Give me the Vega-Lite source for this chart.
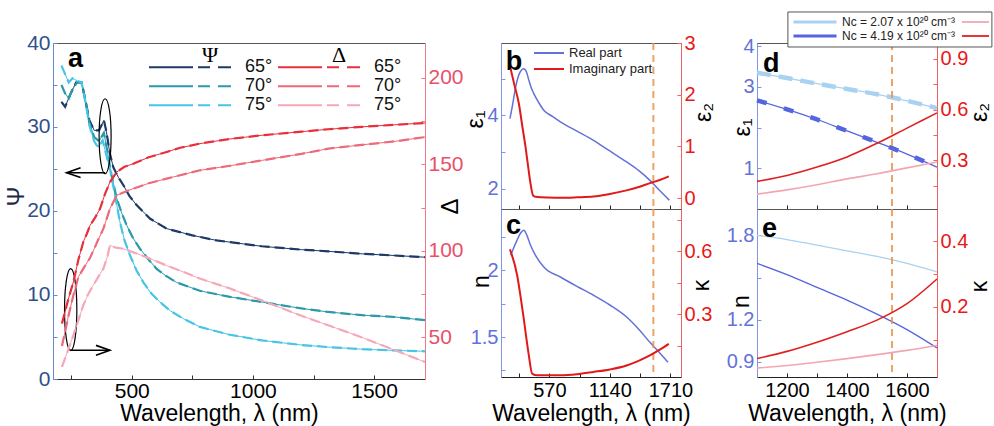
{
"$schema": "https://vega.github.io/schema/vega-lite/v6.json",
"background": "white",
"padding": {"left": 4, "top": 10, "right": 0, "bottom": 0},
"config": {
 "view": {"stroke": "#555", "strokeWidth": 1},
 "font": "Liberation Sans",
 "axis": {"grid": false, "labelFont": "Liberation Sans", "titleFont": "Liberation Sans", "labelFontSize": 20, "titleFontSize": 23, "titleFontWeight": "normal", "labelColor": "#000", "titleColor": "#000", "domainColor": "#333", "tickColor": "#333", "tickSize": -4, "labelPadding": 7, "labelFlush": false, "labelOverlap": false, "titlePadding": 2},
 "legend": {"labelFont": "Liberation Sans", "titleFont": "Liberation Serif", "titleFontWeight": "normal"}
},
"datasets": {
 "psi": [
  {"lam":210,"v":33.0,"angle":"65°"},{"lam":225,"v":32.4,"angle":"65°"},{"lam":245,"v":33.8,"angle":"65°"},{"lam":270,"v":35.3,"angle":"65°"},{"lam":293,"v":35.3,"angle":"65°"},{"lam":310,"v":33.0,"angle":"65°"},{"lam":325,"v":30.8,"angle":"65°"},{"lam":345,"v":29.6,"angle":"65°"},{"lam":365,"v":29.6,"angle":"65°"},{"lam":385,"v":30.8,"angle":"65°"},{"lam":395,"v":29.5,"angle":"65°"},{"lam":410,"v":26.8,"angle":"65°"},{"lam":424,"v":25.2,"angle":"65°"},{"lam":445,"v":24.0,"angle":"65°"},{"lam":465,"v":23.1,"angle":"65°"},{"lam":490,"v":21.8,"angle":"65°"},{"lam":520,"v":20.7,"angle":"65°"},{"lam":575,"v":19.1,"angle":"65°"},{"lam":644,"v":17.9,"angle":"65°"},{"lam":750,"v":17.1,"angle":"65°"},{"lam":850,"v":16.5,"angle":"65°"},{"lam":1036,"v":15.8,"angle":"65°"},{"lam":1200,"v":15.4,"angle":"65°"},{"lam":1311,"v":15.2,"angle":"65°"},{"lam":1450,"v":14.9,"angle":"65°"},{"lam":1586,"v":14.7,"angle":"65°"},{"lam":1710,"v":14.5,"angle":"65°"},
  {"lam":210,"v":35.0,"angle":"70°"},{"lam":225,"v":34.0,"angle":"70°"},{"lam":240,"v":33.4,"angle":"70°"},{"lam":255,"v":34.5,"angle":"70°"},{"lam":275,"v":35.3,"angle":"70°"},{"lam":293,"v":35.3,"angle":"70°"},{"lam":310,"v":33.0,"angle":"70°"},{"lam":325,"v":30.5,"angle":"70°"},{"lam":345,"v":28.8,"angle":"70°"},{"lam":365,"v":28.3,"angle":"70°"},{"lam":385,"v":29.3,"angle":"70°"},{"lam":400,"v":27.0,"angle":"70°"},{"lam":417,"v":24.2,"angle":"70°"},{"lam":438,"v":21.5,"angle":"70°"},{"lam":458,"v":19.8,"angle":"70°"},{"lam":479,"v":18.3,"angle":"70°"},{"lam":505,"v":16.8,"angle":"70°"},{"lam":534,"v":15.5,"angle":"70°"},{"lam":570,"v":14.2,"angle":"70°"},{"lam":603,"v":13.1,"angle":"70°"},{"lam":640,"v":12.3,"angle":"70°"},{"lam":685,"v":11.5,"angle":"70°"},{"lam":781,"v":10.5,"angle":"70°"},{"lam":900,"v":9.8,"angle":"70°"},{"lam":1036,"v":9.17,"angle":"70°"},{"lam":1200,"v":8.4,"angle":"70°"},{"lam":1311,"v":7.98,"angle":"70°"},{"lam":1450,"v":7.6,"angle":"70°"},{"lam":1586,"v":7.38,"angle":"70°"},{"lam":1710,"v":7.0,"angle":"70°"},
  {"lam":210,"v":37.3,"angle":"75°"},{"lam":225,"v":36.3,"angle":"75°"},{"lam":240,"v":35.3,"angle":"75°"},{"lam":255,"v":35.8,"angle":"75°"},{"lam":275,"v":35.5,"angle":"75°"},{"lam":293,"v":35.3,"angle":"75°"},{"lam":310,"v":32.8,"angle":"75°"},{"lam":325,"v":30.2,"angle":"75°"},{"lam":345,"v":28.3,"angle":"75°"},{"lam":360,"v":27.6,"angle":"75°"},{"lam":380,"v":28.4,"angle":"75°"},{"lam":392,"v":27.0,"angle":"75°"},{"lam":410,"v":25.0,"angle":"75°"},{"lam":431,"v":21.9,"angle":"75°"},{"lam":451,"v":18.7,"angle":"75°"},{"lam":470,"v":16.5,"angle":"75°"},{"lam":493,"v":14.7,"angle":"75°"},{"lam":520,"v":12.9,"angle":"75°"},{"lam":548,"v":11.5,"angle":"75°"},{"lam":580,"v":10.2,"angle":"75°"},{"lam":616,"v":9.17,"angle":"75°"},{"lam":660,"v":8.1,"angle":"75°"},{"lam":713,"v":7.18,"angle":"75°"},{"lam":781,"v":6.2,"angle":"75°"},{"lam":900,"v":5.3,"angle":"75°"},{"lam":1036,"v":4.6,"angle":"75°"},{"lam":1200,"v":4.05,"angle":"75°"},{"lam":1311,"v":3.8,"angle":"75°"},{"lam":1450,"v":3.55,"angle":"75°"},{"lam":1586,"v":3.4,"angle":"75°"},{"lam":1710,"v":3.3,"angle":"75°"}
 ],
 "delta": [
  {"lam":212,"v":58,"angle":"65°"},{"lam":238,"v":72,"angle":"65°"},{"lam":259,"v":82,"angle":"65°"},{"lam":280,"v":95,"angle":"65°"},{"lam":300,"v":105.1,"angle":"65°"},{"lam":315,"v":110,"angle":"65°"},{"lam":328,"v":114.7,"angle":"65°"},{"lam":348,"v":119,"angle":"65°"},{"lam":369,"v":124.3,"angle":"65°"},{"lam":390,"v":133,"angle":"65°"},{"lam":410,"v":139.7,"angle":"65°"},{"lam":438,"v":145.5,"angle":"65°"},{"lam":470,"v":148.5,"angle":"65°"},{"lam":506,"v":150.3,"angle":"65°"},{"lam":570,"v":154,"angle":"65°"},{"lam":644,"v":157.1,"angle":"65°"},{"lam":700,"v":159.5,"angle":"65°"},{"lam":781,"v":161.9,"angle":"65°"},{"lam":900,"v":164.5,"angle":"65°"},{"lam":1036,"v":166.7,"angle":"65°"},{"lam":1200,"v":168.8,"angle":"65°"},{"lam":1311,"v":170.2,"angle":"65°"},{"lam":1450,"v":171.6,"angle":"65°"},{"lam":1586,"v":172.8,"angle":"65°"},{"lam":1710,"v":173.8,"angle":"65°"},
  {"lam":212,"v":45,"angle":"70°"},{"lam":238,"v":62,"angle":"70°"},{"lam":259,"v":74.3,"angle":"70°"},{"lam":280,"v":85,"angle":"70°"},{"lam":300,"v":89.7,"angle":"70°"},{"lam":328,"v":96,"angle":"70°"},{"lam":345,"v":101.2,"angle":"70°"},{"lam":360,"v":106,"angle":"70°"},{"lam":383,"v":112.8,"angle":"70°"},{"lam":410,"v":124.3,"angle":"70°"},{"lam":438,"v":132.1,"angle":"70°"},{"lam":480,"v":134.5,"angle":"70°"},{"lam":506,"v":135.9,"angle":"70°"},{"lam":570,"v":139,"angle":"70°"},{"lam":644,"v":141.7,"angle":"70°"},{"lam":781,"v":146.5,"angle":"70°"},{"lam":900,"v":149,"angle":"70°"},{"lam":1036,"v":152.2,"angle":"70°"},{"lam":1200,"v":156,"angle":"70°"},{"lam":1311,"v":159.0,"angle":"70°"},{"lam":1450,"v":161.2,"angle":"70°"},{"lam":1586,"v":163.2,"angle":"70°"},{"lam":1710,"v":165.7,"angle":"70°"},
  {"lam":212,"v":33,"angle":"75°"},{"lam":238,"v":43,"angle":"75°"},{"lam":259,"v":51.2,"angle":"75°"},{"lam":280,"v":60,"angle":"75°"},{"lam":300,"v":68.6,"angle":"75°"},{"lam":320,"v":75,"angle":"75°"},{"lam":341,"v":80.1,"angle":"75°"},{"lam":362,"v":85,"angle":"75°"},{"lam":383,"v":89.7,"angle":"75°"},{"lam":400,"v":97,"angle":"75°"},{"lam":410,"v":103.2,"angle":"75°"},{"lam":430,"v":102,"angle":"75°"},{"lam":465,"v":101.2,"angle":"75°"},{"lam":520,"v":98.5,"angle":"75°"},{"lam":575,"v":95.5,"angle":"75°"},{"lam":644,"v":91.5,"angle":"75°"},{"lam":713,"v":87.8,"angle":"75°"},{"lam":781,"v":84,"angle":"75°"},{"lam":900,"v":78.5,"angle":"75°"},{"lam":1036,"v":71.4,"angle":"75°"},{"lam":1200,"v":62.5,"angle":"75°"},{"lam":1311,"v":57.0,"angle":"75°"},{"lam":1450,"v":50,"angle":"75°"},{"lam":1586,"v":42.6,"angle":"75°"},{"lam":1710,"v":35.8,"angle":"75°"}
 ],
 "b_re": [{"lam":199,"v":3.91},{"lam":225,"v":4.3},{"lam":253,"v":4.77},{"lam":290,"v":5.15},{"lam":330,"v":5.27},{"lam":355,"v":5.18},{"lam":377,"v":4.96},{"lam":400,"v":4.75},{"lam":424,"v":4.59},{"lam":470,"v":4.35},{"lam":518,"v":4.14},{"lam":600,"v":3.97},{"lam":674,"v":3.82},{"lam":830,"v":3.57},{"lam":986,"v":3.32},{"lam":1140,"v":3.03},{"lam":1298,"v":2.73},{"lam":1410,"v":2.5},{"lam":1517,"v":2.23},{"lam":1600,"v":1.98},{"lam":1700,"v":1.69}],
 "b_im": [{"lam":206,"v":2.5},{"lam":240,"v":2.2},{"lam":284,"v":1.82},{"lam":315,"v":1.4},{"lam":346,"v":0.99},{"lam":370,"v":0.62},{"lam":393,"v":0.28},{"lam":417,"v":0.05},{"lam":440,"v":0.025},{"lam":560,"v":0.01},{"lam":674,"v":0.006},{"lam":830,"v":0.015},{"lam":986,"v":0.03},{"lam":1140,"v":0.08},{"lam":1298,"v":0.15},{"lam":1420,"v":0.22},{"lam":1517,"v":0.29},{"lam":1610,"v":0.35},{"lam":1695,"v":0.42}],
 "c_n": [{"lam":206,"v":2.113},{"lam":235,"v":2.17},{"lam":265,"v":2.225},{"lam":300,"v":2.28},{"lam":330,"v":2.3},{"lam":360,"v":2.26},{"lam":393,"v":2.188},{"lam":440,"v":2.113},{"lam":518,"v":2.025},{"lam":674,"v":1.95},{"lam":830,"v":1.88},{"lam":986,"v":1.813},{"lam":1140,"v":1.74},{"lam":1298,"v":1.65},{"lam":1410,"v":1.56},{"lam":1517,"v":1.46},{"lam":1600,"v":1.39},{"lam":1688,"v":1.31}],
 "c_k": [{"lam":199,"v":0.608},{"lam":268,"v":0.482},{"lam":300,"v":0.38},{"lam":330,"v":0.276},{"lam":355,"v":0.18},{"lam":377,"v":0.103},{"lam":408,"v":0.016},{"lam":455,"v":0.008},{"lam":674,"v":0.008},{"lam":830,"v":0.013},{"lam":986,"v":0.024},{"lam":1140,"v":0.036},{"lam":1298,"v":0.055},{"lam":1410,"v":0.077},{"lam":1517,"v":0.103},{"lam":1610,"v":0.13},{"lam":1695,"v":0.158}],
 "d_e1": [
  {"lam":1100,"v":3.35,"nc":"Nc = 2.07 x 10²⁰ cm⁻³"},{"lam":1200,"v":3.22,"nc":"Nc = 2.07 x 10²⁰ cm⁻³"},{"lam":1300,"v":3.08,"nc":"Nc = 2.07 x 10²⁰ cm⁻³"},{"lam":1400,"v":2.95,"nc":"Nc = 2.07 x 10²⁰ cm⁻³"},{"lam":1500,"v":2.82,"nc":"Nc = 2.07 x 10²⁰ cm⁻³"},{"lam":1600,"v":2.66,"nc":"Nc = 2.07 x 10²⁰ cm⁻³"},{"lam":1700,"v":2.48,"nc":"Nc = 2.07 x 10²⁰ cm⁻³"},
  {"lam":1100,"v":2.67,"nc":"Nc = 4.19 x 10²⁰ cm⁻³"},{"lam":1200,"v":2.45,"nc":"Nc = 4.19 x 10²⁰ cm⁻³"},{"lam":1300,"v":2.2,"nc":"Nc = 4.19 x 10²⁰ cm⁻³"},{"lam":1400,"v":1.92,"nc":"Nc = 4.19 x 10²⁰ cm⁻³"},{"lam":1500,"v":1.64,"nc":"Nc = 4.19 x 10²⁰ cm⁻³"},{"lam":1600,"v":1.35,"nc":"Nc = 4.19 x 10²⁰ cm⁻³"},{"lam":1700,"v":1.03,"nc":"Nc = 4.19 x 10²⁰ cm⁻³"}
 ],
 "d_e2": [
  {"lam":1100,"v":0.1,"nc":"Nc = 2.07 x 10²⁰ cm⁻³"},{"lam":1200,"v":0.125,"nc":"Nc = 2.07 x 10²⁰ cm⁻³"},{"lam":1300,"v":0.155,"nc":"Nc = 2.07 x 10²⁰ cm⁻³"},{"lam":1400,"v":0.19,"nc":"Nc = 2.07 x 10²⁰ cm⁻³"},{"lam":1500,"v":0.22,"nc":"Nc = 2.07 x 10²⁰ cm⁻³"},{"lam":1600,"v":0.255,"nc":"Nc = 2.07 x 10²⁰ cm⁻³"},{"lam":1700,"v":0.29,"nc":"Nc = 2.07 x 10²⁰ cm⁻³"},
  {"lam":1100,"v":0.175,"nc":"Nc = 4.19 x 10²⁰ cm⁻³"},{"lam":1200,"v":0.21,"nc":"Nc = 4.19 x 10²⁰ cm⁻³"},{"lam":1300,"v":0.26,"nc":"Nc = 4.19 x 10²⁰ cm⁻³"},{"lam":1400,"v":0.32,"nc":"Nc = 4.19 x 10²⁰ cm⁻³"},{"lam":1500,"v":0.4,"nc":"Nc = 4.19 x 10²⁰ cm⁻³"},{"lam":1600,"v":0.49,"nc":"Nc = 4.19 x 10²⁰ cm⁻³"},{"lam":1700,"v":0.58,"nc":"Nc = 4.19 x 10²⁰ cm⁻³"}
 ],
 "e_n": [
  {"lam":1100,"v":1.8,"nc":"Nc = 2.07 x 10²⁰ cm⁻³"},{"lam":1200,"v":1.77,"nc":"Nc = 2.07 x 10²⁰ cm⁻³"},{"lam":1300,"v":1.73,"nc":"Nc = 2.07 x 10²⁰ cm⁻³"},{"lam":1400,"v":1.69,"nc":"Nc = 2.07 x 10²⁰ cm⁻³"},{"lam":1500,"v":1.65,"nc":"Nc = 2.07 x 10²⁰ cm⁻³"},{"lam":1600,"v":1.6,"nc":"Nc = 2.07 x 10²⁰ cm⁻³"},{"lam":1700,"v":1.54,"nc":"Nc = 2.07 x 10²⁰ cm⁻³"},
  {"lam":1100,"v":1.6,"nc":"Nc = 4.19 x 10²⁰ cm⁻³"},{"lam":1200,"v":1.52,"nc":"Nc = 4.19 x 10²⁰ cm⁻³"},{"lam":1300,"v":1.43,"nc":"Nc = 4.19 x 10²⁰ cm⁻³"},{"lam":1400,"v":1.34,"nc":"Nc = 4.19 x 10²⁰ cm⁻³"},{"lam":1500,"v":1.24,"nc":"Nc = 4.19 x 10²⁰ cm⁻³"},{"lam":1600,"v":1.13,"nc":"Nc = 4.19 x 10²⁰ cm⁻³"},{"lam":1700,"v":1.0,"nc":"Nc = 4.19 x 10²⁰ cm⁻³"}
 ],
 "e_k": [
  {"lam":1100,"v":0.014,"nc":"Nc = 2.07 x 10²⁰ cm⁻³"},{"lam":1200,"v":0.022,"nc":"Nc = 2.07 x 10²⁰ cm⁻³"},{"lam":1300,"v":0.032,"nc":"Nc = 2.07 x 10²⁰ cm⁻³"},{"lam":1400,"v":0.043,"nc":"Nc = 2.07 x 10²⁰ cm⁻³"},{"lam":1500,"v":0.055,"nc":"Nc = 2.07 x 10²⁰ cm⁻³"},{"lam":1600,"v":0.068,"nc":"Nc = 2.07 x 10²⁰ cm⁻³"},{"lam":1700,"v":0.083,"nc":"Nc = 2.07 x 10²⁰ cm⁻³"},
  {"lam":1100,"v":0.043,"nc":"Nc = 4.19 x 10²⁰ cm⁻³"},{"lam":1200,"v":0.065,"nc":"Nc = 4.19 x 10²⁰ cm⁻³"},{"lam":1300,"v":0.093,"nc":"Nc = 4.19 x 10²⁰ cm⁻³"},{"lam":1400,"v":0.125,"nc":"Nc = 4.19 x 10²⁰ cm⁻³"},{"lam":1500,"v":0.16,"nc":"Nc = 4.19 x 10²⁰ cm⁻³"},{"lam":1600,"v":0.21,"nc":"Nc = 4.19 x 10²⁰ cm⁻³"},{"lam":1700,"v":0.285,"nc":"Nc = 4.19 x 10²⁰ cm⁻³"}
 ]
},
"columns": 3,
"spacing": {"row": 0, "column": 76},
"bounds": "flush",
"resolve": {"scale": {"color": "independent"}},
"concat": [
 {
  "width": 372, "height": 166,
  "view": {"stroke": null},
  "encoding": {"x": {"field": "lam", "type": "quantitative", "scale": {"domain": [175, 1710], "nice": false, "zero": false}, "axis": {"orient": "top", "labels": false, "ticks": false, "title": null, "domainColor": "#555"}}},
  "layer": [
   {"layer": [
    {"data": {"name": "psi"}, "mark": {"type": "line", "strokeWidth": 1, "clip": true},
     "encoding": {
      "y": {"field": "v", "type": "quantitative", "scale": {"domain": [20.238, 40], "nice": false, "zero": false}, "axis": {"title": "Ψ", "values": [25,30,35,40], "format": "d", "labelExpr": "datum.value % 10 == 0 ? datum.label : ''", "labelColor": "#30508a", "domainColor": "#6a88c8", "tickColor": "#6a88c8", "labelFontSize": 21, "titleFontSize": 24, "titleColor": "#1a2a4a", "titleX": -25, "titleY": 153, "titleAngle": 270, "titleBaseline": "bottom", "titleAlign": "center", "encoding": {"title": {"update": {"angle": {"value": 270}, "baseline": {"value": "bottom"}}}}}},
      "color": {"field": "angle", "type": "nominal", "scale": {"domain": ["65°","70°","75°"], "range": ["#1e3a66","#2a9aaa","#48c4e4"]}, "legend": {"title": "Ψ", "orient": "none", "legendX": 95, "legendY": 2, "direction": "vertical", "symbolType": "stroke", "symbolSize": 6724, "symbolStrokeWidth": 2, "symbolDash": [44,5,12,8,13,0], "clipHeight": 16.7, "rowPadding": 0, "labelFontSize": 18, "labelOffset": 13, "labelColor": "#111", "titleFontSize": 22, "titleAnchor": "middle", "titlePadding": -8}}
     }},
    {"data": {"name": "psi"}, "mark": {"type": "line", "strokeWidth": 2.2, "strokeDash": [10,5], "clip": true},
     "encoding": {"y": {"field": "v", "type": "quantitative"}, "color": {"field": "angle", "type": "nominal"}}},
    {"data": {"values": [{"lam": 390, "v": 28.9}]}, "mark": {"type": "point", "shape": "M0,-1A0.16,1,0,1,1,0,1A0.16,1,0,1,1,0,-1Z", "size": 5625, "filled": false, "color": "#000", "strokeWidth": 1.2, "opacity": 1},
     "encoding": {"y": {"field": "v", "type": "quantitative"}}},
    {"data": {"values": [{"lam": 390, "lam2": 231, "v": 24.56}]}, "mark": {"type": "rule", "color": "#000", "strokeWidth": 1.5},
     "encoding": {"x2": {"field": "lam2"}, "y": {"field": "v", "type": "quantitative"}}},
    {"data": {"values": [{"lam2": 231, "v": 24.56}]}, "mark": {"type": "point", "shape": "M2,-0.7L0,0L2,0.7", "size": 196, "filled": false, "color": "#000", "strokeWidth": 1.6, "opacity": 1},
     "encoding": {"x": {"field": "lam2", "type": "quantitative"}, "y": {"field": "v", "type": "quantitative"}}},
    {"data": {"values": [{"lam": 237, "v": 37.14, "t": "a"}]}, "mark": {"type": "text", "fontSize": 27, "fontWeight": "bold", "font": "Liberation Sans", "align": "left", "baseline": "alphabetic", "color": "#000"},
     "encoding": {"y": {"field": "v", "type": "quantitative"}, "text": {"field": "t"}}}
   ]},
   {"layer": [
    {"data": {"name": "delta"}, "mark": {"type": "line", "strokeWidth": 1, "clip": true},
     "encoding": {
      "y": {"field": "v", "type": "quantitative", "scale": {"domain": [124.155, 220], "nice": false, "zero": false}, "axis": {"orient": "right", "title": "Δ", "values": [125,150,175,200], "format": "d", "labelExpr": "datum.value % 50 == 0 ? datum.label : ''", "labelColor": "#e8506a", "domainColor": "#f07888", "tickColor": "#f07888", "labelFontSize": 21, "titleFontSize": 24, "titleX": 37, "titleY": 163, "titleAngle": 270, "titleBaseline": "bottom", "titleAlign": "center", "encoding": {"title": {"update": {"angle": {"value": 270}, "baseline": {"value": "bottom"}}}}}},
      "color": {"field": "angle", "type": "nominal", "scale": {"domain": ["65°","70°","75°"], "range": ["#e8303c","#ec6a7a","#f4a8b8"]}, "legend": {"title": "Δ", "orient": "none", "legendX": 224, "legendY": 2, "direction": "vertical", "symbolType": "stroke", "symbolSize": 6724, "symbolStrokeWidth": 2, "symbolDash": [44,5,12,8,13,0], "clipHeight": 16.7, "rowPadding": 0, "labelFontSize": 18, "labelOffset": 13, "labelColor": "#111", "titleFontSize": 22, "titleAnchor": "middle", "titlePadding": -8}}
     }},
    {"data": {"name": "delta"}, "mark": {"type": "line", "strokeWidth": 2.2, "strokeDash": [10,5], "clip": true},
     "encoding": {"y": {"field": "v", "type": "quantitative"}, "color": {"field": "angle", "type": "nominal"}}}
   ]}
  ],
  "resolve": {"scale": {"y": "independent", "color": "independent"}}
 },
 {
  "width": 180, "height": 166,
  "encoding": {"x": {"field": "lam", "type": "quantitative", "scale": {"domain": [115, 1810], "nice": false, "zero": false}, "axis": {"values": [285,570,855,1140,1425,1710], "labels": false, "title": null, "domainColor": "#222", "tickColor": "#222"}}},
  "layer": [
   {"layer": [
    {"data": {"name": "b_re"}, "mark": {"type": "line", "strokeWidth": 1.5, "interpolate": "monotone"},
     "encoding": {
      "y": {"field": "v", "type": "quantitative", "scale": {"domain": [1.45, 5.97], "nice": false, "zero": false}, "axis": {"title": "ε₁", "values": [2,3,4,5], "format": "d", "labelExpr": "datum.value == 2 || datum.value == 4 ? datum.label : ''", "labelColor": "#6272d8", "domainColor": "#8494e4", "tickColor": "#8494e4", "titleX": -14, "titleY": 76, "titleAngle": 270, "titleBaseline": "bottom", "titleAlign": "center", "encoding": {"title": {"update": {"angle": {"value": 270}, "baseline": {"value": "bottom"}}}}}},
      "color": {"datum": "Real part", "type": "nominal", "scale": {"domain": ["Real part", "Imaginary part"], "range": ["#6272d8", "#e01a1a"]}, "legend": {"title": null, "orient": "none", "legendX": 32, "legendY": 2, "direction": "vertical", "symbolType": "stroke", "symbolSize": 900, "symbolStrokeWidth": 2, "clipHeight": 16, "rowPadding": 0, "labelFontSize": 13, "labelOffset": 4, "labelColor": "#222"}}
     }},
    {"data": {"values": [{"lam": 1550}]}, "mark": {"type": "rule", "color": "#e8944a", "strokeWidth": 2, "strokeDash": [7,5], "opacity": 0.85}, "encoding": {}},
    {"data": {"values": [{"lam": 159, "v": 5.24, "t": "b"}]}, "mark": {"type": "text", "fontSize": 27, "fontWeight": "bold", "font": "Liberation Sans", "align": "left", "baseline": "alphabetic", "color": "#000"},
     "encoding": {"y": {"field": "v", "type": "quantitative"}, "text": {"field": "t"}}}
   ]},
   {"layer": [
    {"data": {"name": "b_im"}, "mark": {"type": "line", "strokeWidth": 2, "interpolate": "monotone"},
     "encoding": {
      "y": {"field": "v", "type": "quantitative", "scale": {"domain": [-0.21, 3.0], "nice": false, "zero": false}, "axis": {"orient": "right", "title": "ε₂", "values": [0,1,2,3], "format": "d", "labelColor": "#e81818", "domainColor": "#f06060", "tickColor": "#f06060", "titleX": 34, "titleY": 69, "titleAngle": 270, "titleBaseline": "bottom", "titleAlign": "center", "encoding": {"title": {"update": {"angle": {"value": 270}, "baseline": {"value": "bottom"}}}}}},
      "color": {"datum": "Imaginary part", "type": "nominal"}
     }}
   ]}
  ],
  "resolve": {"scale": {"y": "independent"}}
 },
 {
  "width": 180, "height": 166,
  "encoding": {"x": {"field": "lam", "type": "quantitative", "scale": {"domain": [1100, 1700], "nice": false, "zero": false}, "axis": {"values": [1200,1300,1400,1500,1600], "labels": false, "title": null, "domainColor": "#222", "tickColor": "#222"}}},
  "layer": [
   {"layer": [
    {"data": {"name": "d_e1"}, "mark": {"type": "line", "strokeWidth": 1.3, "interpolate": "monotone"},
     "encoding": {
      "y": {"field": "v", "type": "quantitative", "scale": {"domain": [0, 4.08], "nice": false, "zero": false}, "axis": {"title": "ε₁", "values": [1,2,3,4], "format": "d", "labelExpr": "datum.value == 2 ? '' : datum.label", "labelColor": "#6272d8", "domainColor": "#8494e4", "tickColor": "#8494e4", "titleX": -3, "titleY": 84, "titleAngle": 270, "titleBaseline": "bottom", "titleAlign": "center", "encoding": {"title": {"update": {"angle": {"value": 270}, "baseline": {"value": "bottom"}}}}}},
      "color": {"field": "nc", "type": "nominal", "scale": {"domain": ["Nc = 2.07 x 10²⁰ cm⁻³", "Nc = 4.19 x 10²⁰ cm⁻³"], "range": ["#a9d2f0", "#5565dd"]}, "legend": {"title": null, "orient": "none", "legendX": 31, "legendY": -31, "direction": "vertical", "symbolType": "stroke", "symbolSize": 1849, "symbolStrokeWidth": 3, "clipHeight": 12, "rowPadding": 2, "labelFontSize": 12, "labelOffset": 4, "labelColor": "#222", "padding": 4}}
     }},
    {"data": {"name": "d_e1"}, "mark": {"type": "line", "strokeWidth": 4.5, "interpolate": "monotone"},
     "encoding": {"y": {"field": "v", "type": "quantitative"}, "color": {"field": "nc", "type": "nominal"}, "strokeDash": {"field": "nc", "type": "nominal", "scale": {"domain": ["Nc = 2.07 x 10²⁰ cm⁻³", "Nc = 4.19 x 10²⁰ cm⁻³"], "range": [[14, 8], [10, 18]]}, "legend": null}}},
    {"data": {"values": [{"lam": 1550}]}, "mark": {"type": "rule", "color": "#e8944a", "strokeWidth": 2, "strokeDash": [7,5], "opacity": 0.85}, "encoding": {}},
    {"data": {"values": [{"lam": 1120, "v": 3.37, "t": "d"}]}, "mark": {"type": "text", "fontSize": 27, "fontWeight": "bold", "font": "Liberation Sans", "align": "left", "baseline": "alphabetic", "color": "#000"},
     "encoding": {"y": {"field": "v", "type": "quantitative"}, "text": {"field": "t"}}},
    {"data": {"values": [{"lam": 1203, "lam2": 1883, "v": 4.842, "v2": 3.982}]}, "mark": {"type": "rect", "fill": "white", "stroke": "#555", "strokeWidth": 1},
     "encoding": {"x2": {"field": "lam2"}, "y": {"field": "v", "type": "quantitative"}, "y2": {"field": "v2"}}}
   ]},
   {"layer": [
    {"data": {"name": "d_e2"}, "mark": {"type": "line", "strokeWidth": 1.6, "interpolate": "monotone"},
     "encoding": {
      "y": {"field": "v", "type": "quantitative", "scale": {"domain": [0.012, 0.993], "nice": false, "zero": false}, "axis": {"orient": "right", "title": "ε₂", "values": [0.15,0.3,0.45,0.6,0.75,0.9], "labelExpr": "datum.value == 0.3 || datum.value == 0.6 || datum.value == 0.9 ? format(datum.value, '.1f') : ''", "labelColor": "#e81818", "domainColor": "#f06060", "tickColor": "#f06060", "titleX": 54, "titleY": 69, "titleAngle": 270, "titleBaseline": "bottom", "titleAlign": "center", "encoding": {"title": {"update": {"angle": {"value": 270}, "baseline": {"value": "bottom"}}}}}},
      "color": {"field": "nc", "type": "nominal", "scale": {"domain": ["Nc = 2.07 x 10²⁰ cm⁻³", "Nc = 4.19 x 10²⁰ cm⁻³"], "range": ["#f2a6b4", "#e02020"]}, "legend": {"title": null, "orient": "none", "legendX": 200, "legendY": -31, "direction": "vertical", "symbolType": "stroke", "symbolSize": 729, "symbolStrokeWidth": 1.8, "clipHeight": 12, "rowPadding": 2, "labelFontSize": 12, "labelOffset": 0, "labelExpr": "'\u200a'", "labelOpacity": 0, "padding": 4}}
     }}
   ]}
  ],
  "resolve": {"scale": {"y": "independent", "color": "independent"}}
 },
 {
  "width": 372, "height": 170,
  "view": {"stroke": null},
  "encoding": {"x": {"field": "lam", "type": "quantitative", "scale": {"domain": [175, 1710], "nice": false, "zero": false}, "axis": {"values": [250,500,750,1000,1250,1500], "format": "d", "labelExpr": "datum.value % 500 == 0 ? datum.label : ''", "title": "Wavelength, λ (nm)", "titleX": 166, "labelFontSize": 21, "labelPadding": 5, "titleFontSize": 23, "titlePadding": 1, "domainColor": "#333"}}},
  "layer": [
   {"layer": [
    {"data": {"name": "psi"}, "mark": {"type": "line", "strokeWidth": 1, "clip": true},
     "encoding": {
      "y": {"field": "v", "type": "quantitative", "scale": {"domain": [0, 20.238], "nice": false, "zero": false}, "axis": {"title": null, "values": [0,5,10,15,20], "format": "d", "labelExpr": "datum.value % 10 == 0 ? datum.label : ''", "labelColor": "#30508a", "domainColor": "#6a88c8", "tickColor": "#6a88c8", "labelFontSize": 21}},
      "color": {"field": "angle", "type": "nominal", "scale": {"domain": ["65°","70°","75°"], "range": ["#1e3a66","#2a9aaa","#48c4e4"]}, "legend": null}
     }},
    {"data": {"name": "psi"}, "mark": {"type": "line", "strokeWidth": 2.2, "strokeDash": [10,5], "clip": true},
     "encoding": {"y": {"field": "v", "type": "quantitative"}, "color": {"field": "angle", "type": "nominal"}}},
    {"data": {"values": [{"lam": 248, "v": 8.25}]}, "mark": {"type": "point", "shape": "M0,-1A0.15,1,0,1,1,0,1A0.15,1,0,1,1,0,-1Z", "size": 6724, "filled": false, "color": "#000", "strokeWidth": 1.2, "opacity": 1},
     "encoding": {"y": {"field": "v", "type": "quantitative"}}},
    {"data": {"values": [{"lam": 245, "lam2": 410, "v": 3.42}]}, "mark": {"type": "rule", "color": "#000", "strokeWidth": 1.5},
     "encoding": {"x2": {"field": "lam2"}, "y": {"field": "v", "type": "quantitative"}}},
    {"data": {"values": [{"lam2": 410, "v": 3.42}]}, "mark": {"type": "point", "shape": "M-2,-0.7L0,0L-2,0.7", "size": 196, "filled": false, "color": "#000", "strokeWidth": 1.6, "opacity": 1},
     "encoding": {"x": {"field": "lam2", "type": "quantitative"}, "y": {"field": "v", "type": "quantitative"}}}
   ]},
   {"layer": [
    {"data": {"name": "delta"}, "mark": {"type": "line", "strokeWidth": 1, "clip": true},
     "encoding": {
      "y": {"field": "v", "type": "quantitative", "scale": {"domain": [26, 124.155], "nice": false, "zero": false}, "axis": {"orient": "right", "title": null, "values": [50,75,100], "format": "d", "labelExpr": "datum.value % 50 == 0 ? datum.label : ''", "labelColor": "#e8506a", "domainColor": "#f07888", "tickColor": "#f07888", "labelFontSize": 21}},
      "color": {"field": "angle", "type": "nominal", "scale": {"domain": ["65°","70°","75°"], "range": ["#e8303c","#ec6a7a","#f4a8b8"]}, "legend": null}
     }},
    {"data": {"name": "delta"}, "mark": {"type": "line", "strokeWidth": 2.2, "strokeDash": [10,5], "clip": true},
     "encoding": {"y": {"field": "v", "type": "quantitative"}, "color": {"field": "angle", "type": "nominal"}}}
   ]}
  ],
  "resolve": {"scale": {"y": "independent", "color": "independent"}}
 },
 {
  "width": 180, "height": 168,
  "encoding": {"x": {"field": "lam", "type": "quantitative", "scale": {"domain": [115, 1810], "nice": false, "zero": false}, "axis": {"values": [285,570,855,1140,1425,1710], "format": "d", "labelExpr": "datum.value % 570 == 0 ? datum.label : ''", "title": "Wavelength, λ (nm)", "domainColor": "#222", "tickColor": "#222"}}},
  "layer": [
   {"layer": [
    {"data": {"name": "c_n"}, "mark": {"type": "line", "strokeWidth": 1.5, "interpolate": "monotone"},
     "encoding": {
      "y": {"field": "v", "type": "quantitative", "scale": {"domain": [1.2, 2.46], "nice": false, "zero": false}, "axis": {"title": "n", "values": [1.25,1.5,1.75,2,2.25], "labelExpr": "datum.value == 1.5 ? '1.5' : datum.value == 2 ? '2' : ''", "labelColor": "#6272d8", "domainColor": "#8494e4", "tickColor": "#8494e4", "titleX": -8, "titleY": 72, "titleAngle": 270, "titleBaseline": "bottom", "titleAlign": "center", "encoding": {"title": {"update": {"angle": {"value": 270}, "baseline": {"value": "bottom"}}}}}},
      "color": {"datum": "Real part", "type": "nominal", "scale": {"domain": ["Real part", "Imaginary part"], "range": ["#6272d8", "#e01a1a"]}, "legend": null}
     }},
    {"data": {"values": [{"lam": 1550}]}, "mark": {"type": "rule", "color": "#e8944a", "strokeWidth": 2, "strokeDash": [7,5], "opacity": 0.85}, "encoding": {}},
    {"data": {"values": [{"lam": 162, "v": 2.273, "t": "c"}]}, "mark": {"type": "text", "fontSize": 27, "fontWeight": "bold", "font": "Liberation Sans", "align": "left", "baseline": "alphabetic", "color": "#000"},
     "encoding": {"y": {"field": "v", "type": "quantitative"}, "text": {"field": "t"}}}
   ]},
   {"layer": [
    {"data": {"name": "c_k"}, "mark": {"type": "line", "strokeWidth": 2, "interpolate": "monotone"},
     "encoding": {
      "y": {"field": "v", "type": "quantitative", "scale": {"domain": [0, 0.8], "nice": false, "zero": false}, "axis": {"orient": "right", "title": "κ", "values": [0.15,0.3,0.45,0.6,0.75], "labelExpr": "datum.value == 0.3 || datum.value == 0.6 ? format(datum.value, '.1f') : ''", "labelColor": "#e81818", "domainColor": "#f06060", "tickColor": "#f06060", "titleX": 32, "titleY": 76, "titleAngle": 270, "titleBaseline": "bottom", "titleAlign": "center", "encoding": {"title": {"update": {"angle": {"value": 270}, "baseline": {"value": "bottom"}}}}}},
      "color": {"datum": "Imaginary part", "type": "nominal"}
     }}
   ]}
  ],
  "resolve": {"scale": {"y": "independent"}}
 },
 {
  "width": 180, "height": 168,
  "encoding": {"x": {"field": "lam", "type": "quantitative", "scale": {"domain": [1100, 1700], "nice": false, "zero": false}, "axis": {"values": [1200,1300,1400,1500,1600], "format": "d", "labelExpr": "datum.value % 200 == 0 ? datum.label : ''", "title": "Wavelength, λ (nm)", "domainColor": "#222", "tickColor": "#222"}}},
  "layer": [
   {"layer": [
    {"data": {"name": "e_n"}, "mark": {"type": "line", "strokeWidth": 1.3, "interpolate": "monotone"},
     "encoding": {
      "y": {"field": "v", "type": "quantitative", "scale": {"domain": [0.793, 1.987], "nice": false, "zero": false}, "axis": {"title": "n", "values": [0.9,1.2,1.5,1.8], "labelExpr": "datum.value == 1.5 ? '' : format(datum.value, '.1f')", "labelColor": "#6272d8", "domainColor": "#8494e4", "tickColor": "#8494e4", "titleX": -4, "titleY": 92, "titleAngle": 270, "titleBaseline": "bottom", "titleAlign": "center", "encoding": {"title": {"update": {"angle": {"value": 270}, "baseline": {"value": "bottom"}}}}}},
      "color": {"field": "nc", "type": "nominal", "scale": {"domain": ["Nc = 2.07 x 10²⁰ cm⁻³", "Nc = 4.19 x 10²⁰ cm⁻³"], "range": ["#a9d2f0", "#5565dd"]}, "legend": null}
     }},
    {"data": {"values": [{"lam": 1550}]}, "mark": {"type": "rule", "color": "#e8944a", "strokeWidth": 2, "strokeDash": [7,5], "opacity": 0.85}, "encoding": {}},
    {"data": {"values": [{"lam": 1117, "v": 1.786, "t": "e"}]}, "mark": {"type": "text", "fontSize": 27, "fontWeight": "bold", "font": "Liberation Sans", "align": "left", "baseline": "alphabetic", "color": "#000"},
     "encoding": {"y": {"field": "v", "type": "quantitative"}, "text": {"field": "t"}}}
   ]},
   {"layer": [
    {"data": {"name": "e_k"}, "mark": {"type": "line", "strokeWidth": 1.6, "interpolate": "monotone"},
     "encoding": {
      "y": {"field": "v", "type": "quantitative", "scale": {"domain": [-0.013, 0.498], "nice": false, "zero": false}, "axis": {"orient": "right", "title": "κ", "values": [0.1,0.2,0.3,0.4], "labelExpr": "datum.value == 0.2 || datum.value == 0.4 ? format(datum.value, '.1f') : ''", "labelColor": "#e81818", "domainColor": "#f06060", "tickColor": "#f06060", "titleX": 54, "titleY": 77, "titleAngle": 270, "titleBaseline": "bottom", "titleAlign": "center", "encoding": {"title": {"update": {"angle": {"value": 270}, "baseline": {"value": "bottom"}}}}}},
      "color": {"field": "nc", "type": "nominal", "scale": {"domain": ["Nc = 2.07 x 10²⁰ cm⁻³", "Nc = 4.19 x 10²⁰ cm⁻³"], "range": ["#f2a6b4", "#e02020"]}, "legend": null}
     }}
   ]}
  ],
  "resolve": {"scale": {"y": "independent", "color": "independent"}}
 }
]
}
